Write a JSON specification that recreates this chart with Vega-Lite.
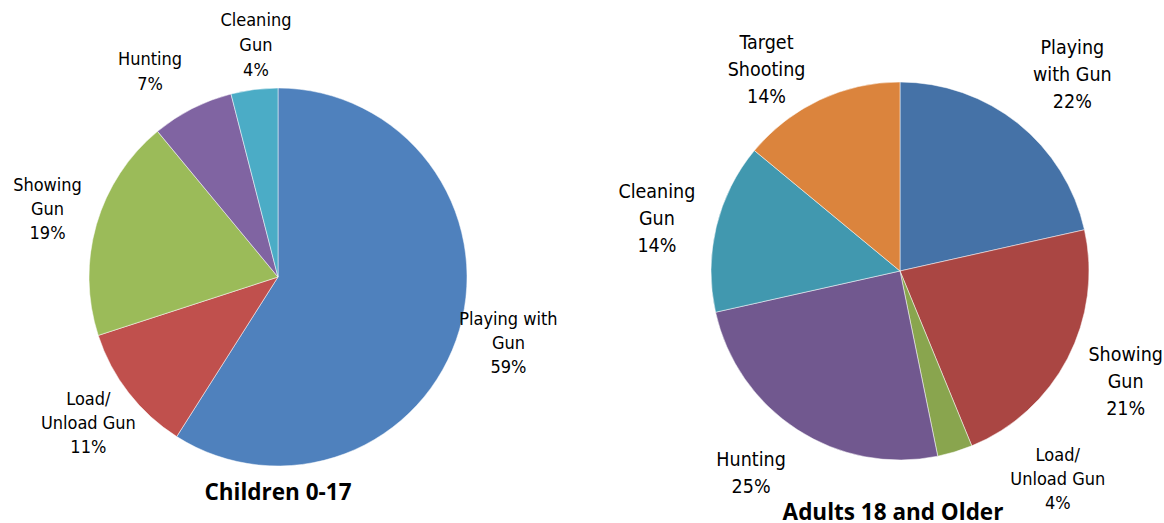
{
  "$schema": "https://vega.github.io/schema/vega-lite/v6.json",
  "padding": {"left": 0, "top": -19, "right": 0, "bottom": 0},
  "background": "white",
  "spacing": 80,
  "bounds": "flush",
  "config": {"view": {"stroke": null}},
  "resolve": {"scale": {"color": "independent", "theta": "independent"}},
  "hconcat": [
    {
      "width": 556,
      "height": 494,
      "title": {"text": "Children 0-17", "orient": "bottom", "frame": "group", "offset": -42, "font": "Open Sans", "fontSize": 22.5, "fontWeight": "bold", "color": "#000000"},
      "data": {"values": [
        {"category": "Playing with Gun", "value": 59, "order": 1, "label": "Playing with\nGun\n59%"},
        {"category": "Load/Unload Gun", "value": 11, "order": 2, "label": "Load/\nUnload Gun\n11%"},
        {"category": "Showing Gun", "value": 19, "order": 3, "label": "Showing\nGun\n19%"},
        {"category": "Hunting", "value": 7, "order": 4, "label": "Hunting\n7%"},
        {"category": "Cleaning Gun", "value": 4, "order": 5, "label": "Cleaning\nGun\n4%"}
      ]},
      "encoding": {
        "theta": {"field": "value", "type": "quantitative", "stack": true},
        "order": {"field": "order", "type": "quantitative"}
      },
      "layer": [
        {
          "mark": {"type": "arc", "outerRadius": 189, "stroke": "white", "strokeWidth": 0.5},
          "encoding": {
            "color": {"field": "category", "type": "nominal", "legend": null,
              "scale": {"domain": ["Playing with Gun", "Load/Unload Gun", "Showing Gun", "Hunting", "Cleaning Gun"],
                        "range": ["#4F81BD", "#C0504D", "#9BBB59", "#8064A2", "#4BACC6"]}}
          }
        },
        {
          "mark": {"type": "text", "radius": 240, "dy": -24, "lineBreak": "\n", "font": "DejaVu Sans Condensed, Liberation Sans, sans-serif", "fontSize": 18, "lineHeight": 24, "align": "center", "baseline": "middle", "color": "#000000"},
          "encoding": {"text": {"field": "label", "type": "nominal", "condition": {"test": "indexof(['Hunting', 'Cleaning Gun'], datum.category) >= 0", "value": ""}}}
        },
        {
          "mark": {"type": "text", "radius": 240, "dx": 8, "dy": -18, "lineBreak": "\n", "font": "DejaVu Sans Condensed, Liberation Sans, sans-serif", "fontSize": 18, "lineHeight": 25, "align": "center", "baseline": "middle", "color": "#000000"},
          "encoding": {"text": {"field": "label", "type": "nominal", "condition": {"test": "datum.category !== 'Cleaning Gun'", "value": ""}}}
        },
        {
          "mark": {"type": "text", "radius": 240, "dx": -19, "dy": -3, "lineBreak": "\n", "font": "DejaVu Sans Condensed, Liberation Sans, sans-serif", "fontSize": 18, "lineHeight": 25, "align": "center", "baseline": "middle", "color": "#000000"},
          "encoding": {"text": {"field": "label", "type": "nominal", "condition": {"test": "datum.category !== 'Hunting'", "value": ""}}}
        }
      ]
    },
    {
      "width": 528,
      "height": 482,
      "title": {"text": "Adults 18 and Older", "orient": "bottom", "frame": "group", "offset": -16, "dx": -7, "font": "Open Sans", "fontSize": 22.5, "fontWeight": "bold", "color": "#000000"},
      "data": {"values": [
        {"category": "Playing with Gun", "value": 21.5, "order": 1, "label": "Playing\nwith Gun\n22%"},
        {"category": "Showing Gun", "value": 22.3, "order": 2, "label": "Showing\nGun\n21%"},
        {"category": "Load/Unload Gun", "value": 3.0, "order": 3, "label": "Load/\nUnload Gun\n4%"},
        {"category": "Hunting", "value": 24.7, "order": 4, "label": "Hunting\n25%"},
        {"category": "Cleaning Gun", "value": 14.5, "order": 5, "label": "Cleaning\nGun\n14%"},
        {"category": "Target Shooting", "value": 14.0, "order": 6, "label": "Target\nShooting\n14%"}
      ]},
      "encoding": {
        "theta": {"field": "value", "type": "quantitative", "stack": true},
        "order": {"field": "order", "type": "quantitative"}
      },
      "layer": [
        {
          "mark": {"type": "arc", "outerRadius": 189, "stroke": "white", "strokeWidth": 0.5},
          "encoding": {
            "color": {"field": "category", "type": "nominal", "legend": null,
              "scale": {"domain": ["Playing with Gun", "Showing Gun", "Load/Unload Gun", "Hunting", "Cleaning Gun", "Target Shooting"],
                        "range": ["#4572A7", "#AA4643", "#89A54E", "#71588F", "#4198AF", "#DB843D"]}}
          }
        },
        {
          "mark": {"type": "text", "radius": 250, "dx": 4, "dy": -32, "lineBreak": "\n", "font": "DejaVu Sans Condensed, Liberation Sans, sans-serif", "fontSize": 19.5, "lineHeight": 27, "align": "center", "baseline": "middle", "color": "#000000"},
          "encoding": {"text": {"field": "label", "type": "nominal", "condition": {"test": "datum.category !== 'Showing Gun'", "value": ""}}}
        },
        {
          "mark": {"type": "text", "radius": 250, "dy": -21, "lineBreak": "\n", "font": "DejaVu Sans Condensed, Liberation Sans, sans-serif", "fontSize": 19.5, "lineHeight": 27, "align": "center", "baseline": "middle", "color": "#000000"},
          "encoding": {"text": {"field": "label", "type": "nominal", "condition": {"test": "datum.category !== 'Cleaning Gun'", "value": ""}}}
        },
        {
          "mark": {"type": "text", "radius": 250, "dx": 16, "dy": -28, "lineBreak": "\n", "font": "DejaVu Sans Condensed, Liberation Sans, sans-serif", "fontSize": 19.5, "lineHeight": 27, "align": "center", "baseline": "middle", "color": "#000000"},
          "encoding": {"text": {"field": "label", "type": "nominal", "condition": {"test": "datum.category !== 'Playing with Gun'", "value": ""}}}
        },
        {
          "mark": {"type": "text", "radius": 250, "dx": -27, "dy": -2, "lineBreak": "\n", "font": "DejaVu Sans Condensed, Liberation Sans, sans-serif", "fontSize": 19.5, "lineHeight": 27, "align": "center", "baseline": "middle", "color": "#000000"},
          "encoding": {"text": {"field": "label", "type": "nominal", "condition": {"test": "datum.category !== 'Target Shooting'", "value": ""}}}
        },
        {
          "mark": {"type": "text", "radius": 250, "dx": -13, "dy": -21, "lineBreak": "\n", "font": "DejaVu Sans Condensed, Liberation Sans, sans-serif", "fontSize": 19.5, "lineHeight": 27, "align": "center", "baseline": "middle", "color": "#000000"},
          "encoding": {"text": {"field": "label", "type": "nominal", "condition": {"test": "datum.category !== 'Hunting'", "value": ""}}}
        },
        {
          "mark": {"type": "text", "radius": 250, "dx": 85, "dy": -54, "lineBreak": "\n", "font": "DejaVu Sans Condensed, Liberation Sans, sans-serif", "fontSize": 18, "lineHeight": 24, "align": "center", "baseline": "middle", "color": "#000000"},
          "encoding": {"text": {"field": "label", "type": "nominal", "condition": {"test": "datum.category !== 'Load/Unload Gun'", "value": ""}}}
        }
      ]
    }
  ]
}
